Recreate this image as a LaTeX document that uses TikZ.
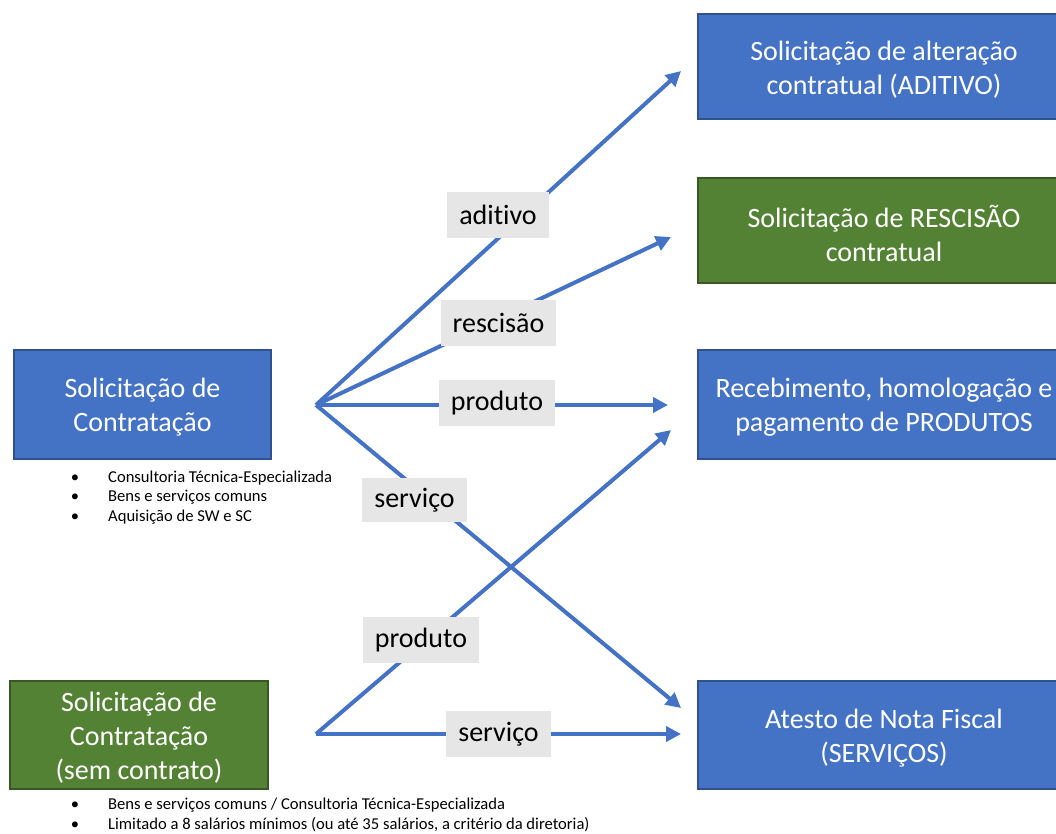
\documentclass[tikz,border=0pt]{standalone}
\usepackage{fontspec}
\setmainfont[Ligatures=NoCommon]{Carlito}
\usetikzlibrary{arrows.meta}
\definecolor{oblue}{HTML}{4472C4}
\definecolor{obluedk}{HTML}{2F528F}
\definecolor{ogreen}{HTML}{548235}
\definecolor{ogreendk}{HTML}{385723}
\definecolor{lgray}{HTML}{E7E6E6}
\newcommand\bigfnt{\fontsize{28}{34}\selectfont}
\newcommand\smallfnt{\fontsize{16.6}{19.6}\selectfont}
\tikzset{
  bbox/.style={draw=obluedk, line width=1.2pt, fill=oblue, inner sep=0pt},
  gbox/.style={draw=ogreendk, line width=1.2pt, fill=ogreen, inner sep=0pt},
  wtxt/.style={text=white, font=\bigfnt, align=center, inner sep=0pt},
  lbl/.style={fill=lgray, text=black, font=\bigfnt, inner xsep=12pt, inner ysep=0pt, minimum height=46pt},
  arr/.style={draw=oblue, line width=4pt, -{Triangle[length=15pt,width=15pt]}},
  blist/.style={font=\smallfnt, align=left, anchor=west, inner sep=0pt, text=black}
}
\newcommand\bul{\llap{•\hspace{29pt}}}
\begin{document}
\begin{tikzpicture}[x=1pt,y=-1pt]
\useasboundingbox (0,0) rectangle (1056,834);
\clip (0,0) rectangle (1056,834);

% left boxes
\node[bbox, minimum width=257pt, minimum height=109pt] (src1) at (142.5,404.5) {};
\node[wtxt] (src1t) at ([yshift=-3pt]src1.center) {Solicitação de\\Contratação};
\node[gbox, minimum width=258pt, minimum height=108pt] (src2) at (139,735) {};
\node[wtxt] (src2t) at ([yshift=-2.5pt]src2.center) {Solicitação de\\Contratação\\(sem contrato)};

% right boxes
\node[bbox, minimum width=372pt, minimum height=105pt] (adit) at (884,66.5) {};
\node[wtxt] (aditt) at ([yshift=-3.5pt]adit.center) {Solicitação de alteração\\contratual (ADITIVO)};
\node[gbox, minimum width=372pt, minimum height=105pt] (resc) at (884,230.5) {};
\node[wtxt] (resct) at ([yshift=-3pt]resc.center) {Solicitação de RESCISÃO\\contratual};
\node[bbox, minimum width=372pt, minimum height=109pt] (prod) at (884,404.5) {};
\node[wtxt] (prodt) at ([yshift=-3pt]prod.center) {Recebimento, homologação e\\pagamento de PRODUTOS};
\node[bbox, minimum width=372pt, minimum height=108pt] (serv) at (884,735) {};
\node[wtxt] (servt) at ([yshift=-3pt]serv.center) {Atesto de Nota Fiscal\\(SERVIÇOS)};

% bullet lists
\node[blist] (list1) at (108,497.5) {\bul Consultoria Técnica-Especializada\\\bul Bens e serviços comuns\\\bul Aquisição de SW e SC};
\node[blist] (list2) at (108,815) {\bul Bens e serviços comuns / Consultoria Técnica-Especializada\\\bul Limitado a 8 salários mínimos (ou até 35 salários, a critério da diretoria)};

% hubs and arrow tips
\coordinate (hubA) at (316,405);
\coordinate (hubB) at (316,734);
\coordinate (tAdit) at (681,71);
\coordinate (tResc) at (671,237);
\coordinate (tProd) at (668,405);
\coordinate (tServ) at (681,708);
\coordinate (tProd2) at (671,430);
\coordinate (tServ2) at (681,734);

\draw[arr] (hubA) -- (tAdit);
\draw[arr] (hubA) -- (tResc);
\draw[arr] (hubA) -- (tProd);
\draw[arr] (hubA) -- (tServ);
\draw[arr] (hubB) -- (tProd2);
\draw[arr] (hubB) -- (tServ2);

% labels
\node[lbl] (lAdit) at (498,215) {aditivo};
\node[lbl] (lResc) at (498.5,323) {rescisão};
\node[lbl] (lProd) at (497,403) {produto};
\node[lbl, minimum height=44pt] (lServ) at (414.5,500) {serviço};
\node[lbl] (lProd2) at (421,640) {produto};
\node[lbl] (lServ2) at (498.5,734) {serviço};
\end{tikzpicture}
\end{document}
